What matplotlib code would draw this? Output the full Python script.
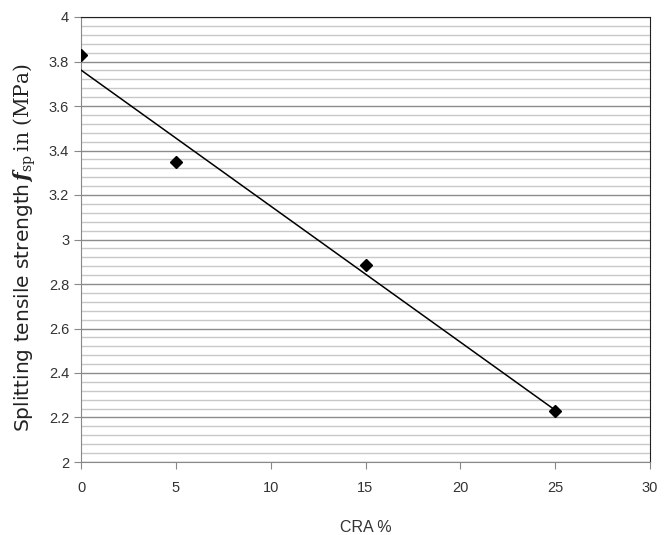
import numpy as np
import matplotlib
matplotlib.use("Agg")
import matplotlib.pyplot as plt
from matplotlib.ticker import MultipleLocator, FuncFormatter

cra = [0, 5, 15, 25]
fsp = [3.83, 3.35, 2.885, 2.23]

x_ticks = [0, 5, 10, 15, 20, 25, 30]
y_ticks = [2, 2.2, 2.4, 2.6, 2.8, 3, 3.2, 3.4, 3.6, 3.8, 4]

plt.rcParams['mathtext.fontset'] = 'dejavuserif'

fig = plt.figure(figsize=(6.69, 5.35), dpi=100)
ax = fig.add_axes([81/669, 1-462/535, (650-81)/669, (462-17)/535])

ax.set_xlim(0, 30)
ax.set_ylim(2, 4)
ax.set_xticks(x_ticks)
ax.set_yticks(y_ticks)
ax.yaxis.set_minor_locator(MultipleLocator(0.04))
ax.yaxis.set_major_formatter(FuncFormatter(lambda v, p: f"{v:g}"))
ax.grid(True, which='major', axis='y', color='#8c8c8c', lw=1.0)
ax.grid(True, which='minor', axis='y', color='#c8c8c8', lw=1.0)
ax.set_axisbelow(True)
ax.tick_params(axis='y', which='minor', length=0)
ax.tick_params(axis='both', which='major', direction='out', length=5, color='#888888',
               labelsize=10.5, labelcolor='#333333')
ax.tick_params(axis='x', pad=9)
for s in ['left', 'bottom']:
    ax.spines[s].set_color('#888888')
for s in ['top', 'right']:
    ax.spines[s].set_color('#222222')
for t in ax.get_xticklabels() + ax.get_yticklabels():
    t.set_fontfamily('Liberation Sans')

# trend line
m, b = np.polyfit(cra, fsp, 1)
xs = np.array([min(cra), max(cra)])
ax.plot(xs, m*xs + b, color='black', lw=1.1, zorder=3)
ax.plot(cra, fsp, linestyle='none', marker='D', color='black', markersize=6.5, zorder=4)

ax.set_xlabel('CRA %', fontsize=11.5, color='#333333', family='Liberation Sans', labelpad=18)
ax.set_ylabel(r'Splitting tensile strength$\,\mathbfit{f}_{\mathrm{sp}}\,\mathrm{in\ (MPa)}$',
              fontsize=14.5, color='#222222', family='DejaVu Sans')
ax.yaxis.set_label_coords(-0.075, 0.481)

fig.savefig('out.png', dpi=100, facecolor='white')
